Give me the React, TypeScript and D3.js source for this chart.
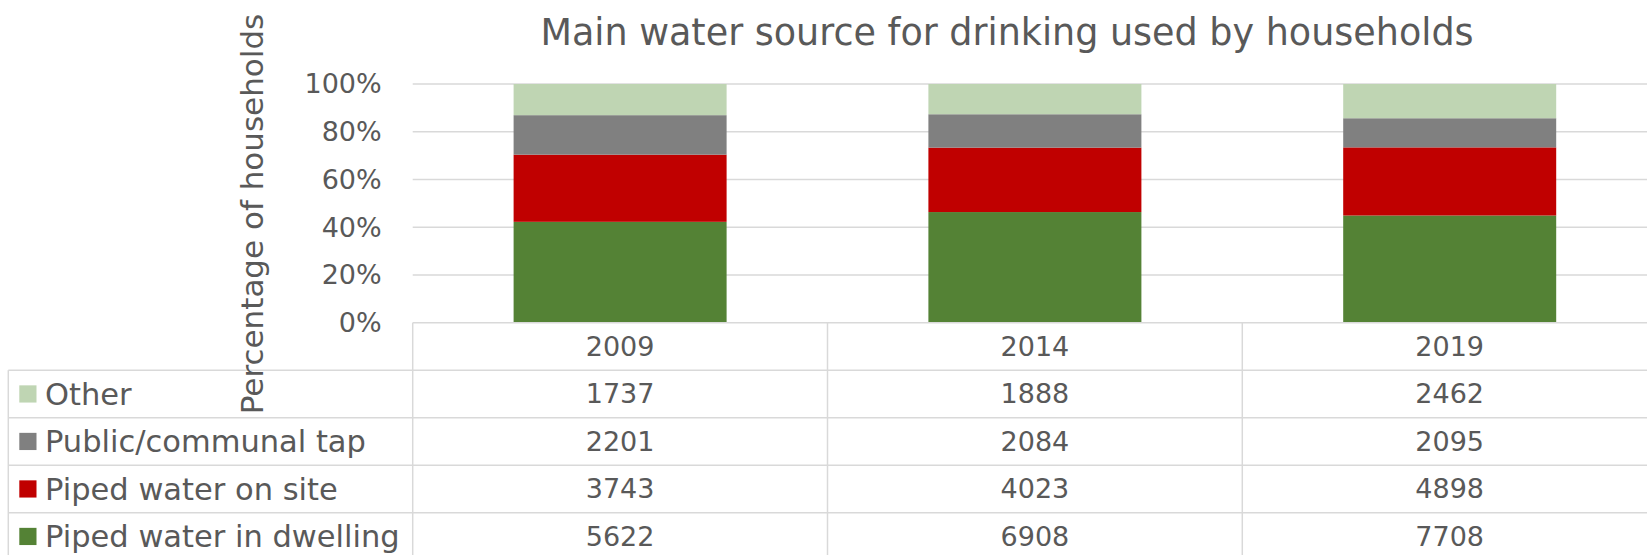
import * as d3 from 'd3'

const years = ['2009', '2014', '2019']
const seriesNames = ['Piped water in dwelling', 'Piped water on site', 'Public/communal tap', 'Other']
const pipedDwelling = [5622, 6908, 7708]
const pipedOnSite = [3743, 4023, 4898]
const publicTap = [2201, 2084, 2095]
const other = [1737, 1888, 2462]
const yTicks = [0, 0.2, 0.4, 0.6, 0.8, 1]

const colors = ['#548235', '#c00000', '#808080', '#bfd5b3']
const W = 1647
const H = 555
const textColor = '#595959'
const lineColor = '#d9d9d9'
const font = "'DejaVu Sans', sans-serif"

export default function App() {
  const seriesValues = [pipedDwelling, pipedOnSite, publicTap, other]
  const rows = years.map((yr, i) => {
    const r: any = { year: yr }
    seriesNames.forEach((s, j) => (r[s] = seriesValues[j][i]))
    return r
  })
  const stacked = d3.stack<any>().keys(seriesNames).offset(d3.stackOffsetExpand)(rows)

  const plotLeft = 412.7
  const step = 414.8
  const x = d3.scaleBand()
    .domain(years)
    .range([plotLeft, plotLeft + step * years.length])
    .paddingInner(0.4865)
    .paddingOuter(0.4865 / 2)
  const y = d3.scaleLinear().domain([0, 1]).range([322.7, 84])

  const rowH = 47.5
  const tableTop = y(0)
  const tableLeft = 8.3
  // table rows top to bottom: Other, Public, On site, Dwelling
  const tableOrder = [3, 2, 1, 0]

  return (
    <svg width={W} height={H} style={{ position: 'absolute', left: 0, top: 0, background: '#fff' }} fontFamily={font}>
      <rect width={W} height={H} fill="#fff" />
      <text x={1007} y={45} textAnchor="middle" fontSize={36.5} fill={textColor}>
        Main water source for drinking used by households
      </text>

      {/* grid */}
      {yTicks.filter(t => t > 0).map(t => (
        <line key={t} x1={plotLeft} x2={W} y1={y(t)} y2={y(t)} stroke={lineColor} strokeWidth={1.5} />
      ))}
      {yTicks.map(t => (
        <text key={'l' + t} x={381.7} y={y(t)} dy="0.35em" textAnchor="end" fontSize={27} fill={textColor}>
          {d3.format('.0%')(t)}
        </text>
      ))}

      {/* bars */}
      {stacked.map((s, j) => (
        <g key={s.key} fill={colors[j]}>
          {s.map((d, i) => (
            <rect key={i} x={x(years[i])} width={x.bandwidth()} y={y(d[1])} height={y(d[0]) - y(d[1])} />
          ))}
        </g>
      ))}

      {/* data table */}
      <g stroke={lineColor} strokeWidth={1.5}>
        <line x1={plotLeft} x2={W} y1={tableTop} y2={tableTop} />
        {d3.range(1, 6).map(k => (
          <line key={k} x1={tableLeft} x2={W} y1={tableTop + k * rowH} y2={tableTop + k * rowH} />
        ))}
        <line x1={tableLeft} x2={tableLeft} y1={tableTop + rowH} y2={H} />
        {years.map((yr, i) => (
          <line key={yr} x1={plotLeft + step * i} x2={plotLeft + step * i} y1={tableTop} y2={H} />
        ))}
      </g>
      {years.map(yr => (
        <text key={yr} x={(x(yr) as number) + x.bandwidth() / 2} y={tableTop + rowH / 2} dy="0.35em"
          textAnchor="middle" fontSize={27} fill={textColor}>{yr}</text>
      ))}
      {tableOrder.map((j, r) => {
        const cy = tableTop + rowH * (r + 1.5)
        return (
          <g key={seriesNames[j]}>
            <rect x={19.3} y={cy - 8.6} width={17.2} height={17.2} fill={colors[j]} />
            <text x={45} y={cy} dy="0.35em" fontSize={30.5} fill={textColor}>{seriesNames[j]}</text>
            {years.map((yr, i) => (
              <text key={yr} x={(x(yr) as number) + x.bandwidth() / 2} y={cy} dy="0.35em"
                textAnchor="middle" fontSize={27} fill={textColor}>{seriesValues[j][i]}</text>
            ))}
          </g>
        )
      })}

      <text transform="translate(263,214) rotate(-90)" textAnchor="middle" fontSize={31} fill={textColor}>
        Percentage of households
      </text>
    </svg>
  )
}
